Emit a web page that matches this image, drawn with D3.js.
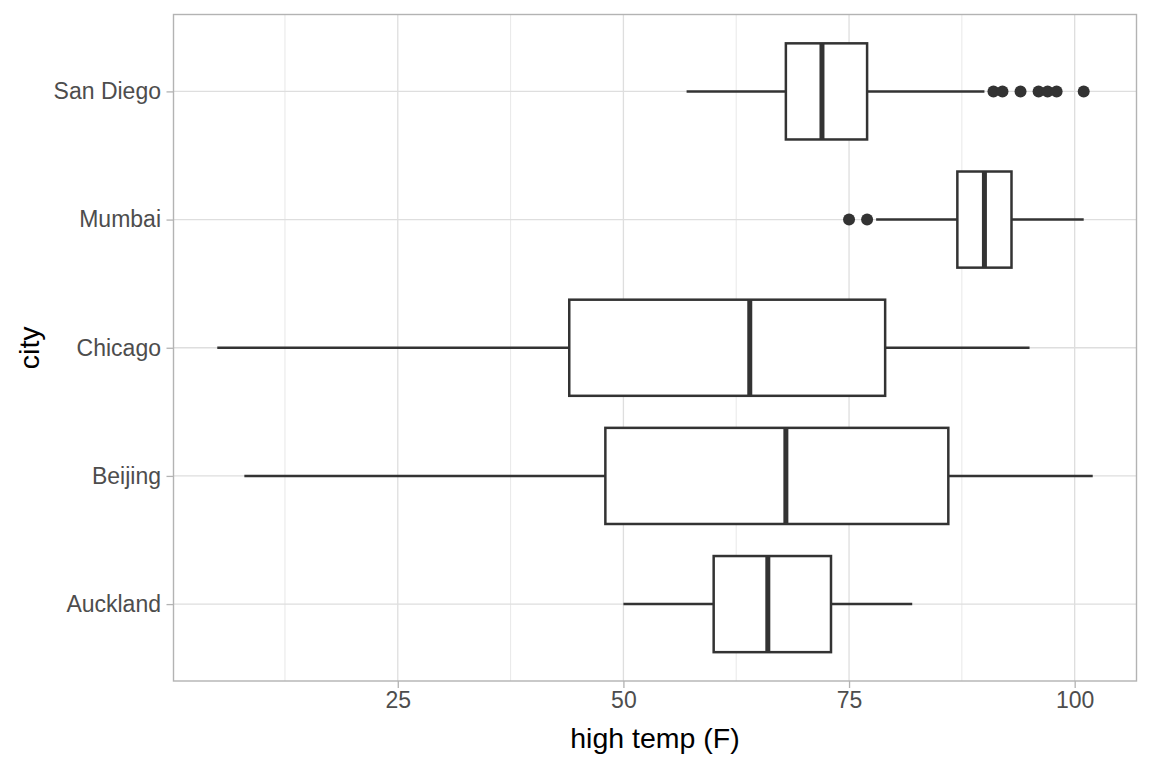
<!DOCTYPE html>
<html>
<head>
<meta charset="utf-8">
<script src="https://cdn.jsdelivr.net/npm/d3@7"></script>
<style>
  html, body { margin: 0; padding: 0; background: #fff; }
  svg { display: block; font-family: "Liberation Sans", Arial, sans-serif; }
</style>
</head>
<body>
<svg id="chart" width="1152" height="768"></svg>
<script>
// Data
const cities = ["Auckland", "Beijing", "Chicago", "Mumbai", "San Diego"];
const whiskerLow  = [50, 8, 5, 78, 57];
const q1          = [60, 48, 44, 87, 68];
const median      = [66, 68, 64, 90, 72];
const q3          = [73, 86, 79, 93, 77];
const whiskerHigh = [82, 102, 95, 101, 90];
const outliers    = [[], [], [], [75, 77], [91, 92, 94, 96, 97, 98, 101]];
const xTicks = [25, 50, 75, 100];
const xMinorTicks = [12.5, 37.5, 62.5, 87.5];
const xLabel = "high temp (F)";
const yLabel = "city";

const boxes = cities.map((c, i) => ({
  city: c, lo: whiskerLow[i], q1: q1[i], med: median[i], q3: q3[i], hi: whiskerHigh[i], out: outliers[i]
}));

const svg = d3.select("#chart");
const panel = { left: 173.5, right: 1136.5, top: 14.5, bottom: 681 };

const allVals = boxes.flatMap(b => [b.lo, b.hi, ...b.out]);
const vMin = d3.min(allVals), vMax = d3.max(allVals);
const pad = (vMax - vMin) * 0.05;
const x = d3.scaleLinear().domain([vMin - pad, vMax + pad]).range([panel.left, panel.right]);

const yPos = d3.scaleLinear().domain([0.4, cities.length + 0.6]).range([panel.bottom, panel.top]);
const yOf = c => yPos(cities.indexOf(c) + 1);
const bandH = yPos(0) - yPos(1);
const boxHalf = bandH * 0.75 / 2;

const grid = svg.append("g");
grid.selectAll(".minor").data(xMinorTicks).join("line")
  .attr("x1", d => x(d)).attr("x2", d => x(d))
  .attr("y1", panel.top).attr("y2", panel.bottom)
  .attr("stroke", "#dedede").attr("stroke-width", 0.7);
grid.selectAll(".majx").data(xTicks).join("line")
  .attr("x1", d => x(d)).attr("x2", d => x(d))
  .attr("y1", panel.top).attr("y2", panel.bottom)
  .attr("stroke", "#dedede").attr("stroke-width", 1.3);
grid.selectAll(".majy").data(cities).join("line")
  .attr("x1", panel.left).attr("x2", panel.right)
  .attr("y1", d => yOf(d)).attr("y2", d => yOf(d))
  .attr("stroke", "#dedede").attr("stroke-width", 1.3);

const g = svg.append("g");
const col = "#333333";
boxes.forEach(b => {
  const cy = yOf(b.city);
  g.append("line").attr("x1", x(b.lo)).attr("x2", x(b.q1)).attr("y1", cy).attr("y2", cy)
    .attr("stroke", col).attr("stroke-width", 2.5);
  g.append("line").attr("x1", x(b.q3)).attr("x2", x(b.hi)).attr("y1", cy).attr("y2", cy)
    .attr("stroke", col).attr("stroke-width", 2.5);
  g.append("rect").attr("x", x(b.q1)).attr("y", cy - boxHalf)
    .attr("width", x(b.q3) - x(b.q1)).attr("height", boxHalf * 2)
    .attr("fill", "#ffffff").attr("stroke", col).attr("stroke-width", 2.5);
  g.append("line").attr("x1", x(b.med)).attr("x2", x(b.med))
    .attr("y1", cy - boxHalf).attr("y2", cy + boxHalf)
    .attr("stroke", col).attr("stroke-width", 5);
  g.selectAll(null).data(b.out).join("circle")
    .attr("cx", d => x(d)).attr("cy", cy).attr("r", 6).attr("fill", col);
});

svg.append("rect")
  .attr("x", panel.left).attr("y", panel.top)
  .attr("width", panel.right - panel.left).attr("height", panel.bottom - panel.top)
  .attr("fill", "none").attr("stroke", "#b3b3b3").attr("stroke-width", 1.4);

const xAxis = d3.axisBottom(x).tickValues(xTicks).tickSize(7).tickPadding(4).tickFormat(d3.format("d"));
const gx = svg.append("g").attr("transform", `translate(0,${panel.bottom})`).call(xAxis);
gx.select(".domain").remove();
gx.selectAll(".tick line").attr("stroke", "#b3b3b3").attr("stroke-width", 1.3);
gx.selectAll(".tick text").attr("fill", "#4d4d4d").style("font-size", "23px")
  .attr("font-family", "Liberation Sans, Arial, sans-serif");

const yAxis = d3.axisLeft(yPos).tickValues(cities.map((c, i) => i + 1))
  .tickFormat((d) => cities[d - 1]).tickSize(7).tickPadding(5.5);
const gy = svg.append("g").attr("transform", `translate(${panel.left},0)`).call(yAxis);
gy.select(".domain").remove();
gy.selectAll(".tick line").attr("stroke", "#b3b3b3").attr("stroke-width", 1.3);
gy.selectAll(".tick text").attr("fill", "#4d4d4d").style("font-size", "23px")
  .attr("font-family", "Liberation Sans, Arial, sans-serif");

svg.append("text")
  .attr("x", (panel.left + panel.right) / 2).attr("y", 748)
  .attr("text-anchor", "middle").attr("fill", "#000").style("font-size", "28.5px")
  .text(xLabel);
svg.append("text")
  .attr("transform", `translate(39,${(panel.top + panel.bottom) / 2}) rotate(-90)`)
  .attr("text-anchor", "middle").attr("fill", "#000").style("font-size", "28.5px")
  .text(yLabel);
</script>
</body>
</html>
